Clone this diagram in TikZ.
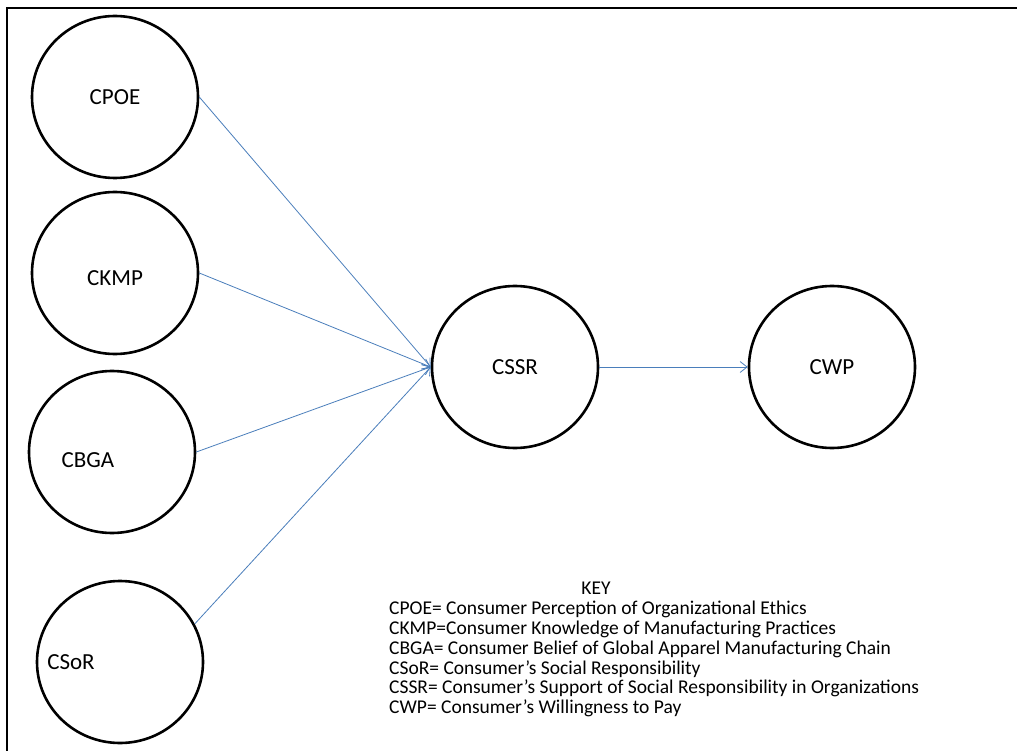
\documentclass[tikz,border=0pt]{standalone}
\usepackage{fontspec}
\setmainfont{Carlito}
\usetikzlibrary{shapes.geometric,arrows.meta}
\definecolor{arrowblue}{HTML}{4A7EBB}
\tikzset{
  circ/.style={draw=black, line width=2.6pt, ellipse, minimum width=166pt, minimum height=162pt, inner sep=0pt},
  lbl/.style={font=\fontsize{23}{27}\selectfont, inner sep=0pt},
  conn/.style={draw=arrowblue, line width=0.8pt, -{Straight Barb[length=7pt,width=11pt,line width=0.8pt]}},
  keytxt/.style={font=\fontsize{19.5}{19.8}\selectfont, align=left, anchor=north west, inner sep=0pt}
}
\begin{document}
\begin{tikzpicture}[x=1pt,y=-1pt]
\useasboundingbox (0,0) rectangle (1017,751);
\draw[line width=2pt] (7,751) -- (7,8) -- (1017,8);
\node[circ] (cpoe) at (115,97) {};
\node[circ] (ckmp) at (115,273) {};
\node[circ] (cbga) at (112,452) {};
\node[circ] (csor) at (120,662) {};
\node[circ] (cssr) at (515,367) {};
\node[circ] (cwp) at (832,367) {};
\node[lbl] (tcpoe) at (115,97) {CPOE};
\node[lbl] (tckmp) at (115,278) {CKMP};
\node[lbl] (tcbga) at (88,460) {CBGA};
\node[lbl] (tcsor) at (71,662) {CSoR};
\node[lbl] (tcssr) at (515,367) {CSSR};
\node[lbl] (tcwp) at (832,367) {CWP};
\draw[conn] (cpoe.east) -- (cssr.west);
\draw[conn] (ckmp.east) -- (cssr.west);
\draw[conn] (cbga.east) -- (cssr.west);
\draw[conn] (csor.27) -- (cssr.west);
\draw[conn] (cssr.east) -- (cwp.west);
\node[font=\fontsize{19.5}{19.8}\selectfont, inner sep=0pt] (key) at (596,588) {KEY};
\node[keytxt] (keylist) at (389,601) {CPOE= Consumer Perception of Organizational Ethics\\
CKMP=Consumer Knowledge of Manufacturing Practices\\
CBGA= Consumer Belief of Global Apparel Manufacturing Chain\\
CSoR= Consumer’s Social Responsibility\\
CSSR= Consumer’s Support of Social Responsibility in Organizations\\
CWP= Consumer’s Willingness to Pay};
\end{tikzpicture}
\end{document}
